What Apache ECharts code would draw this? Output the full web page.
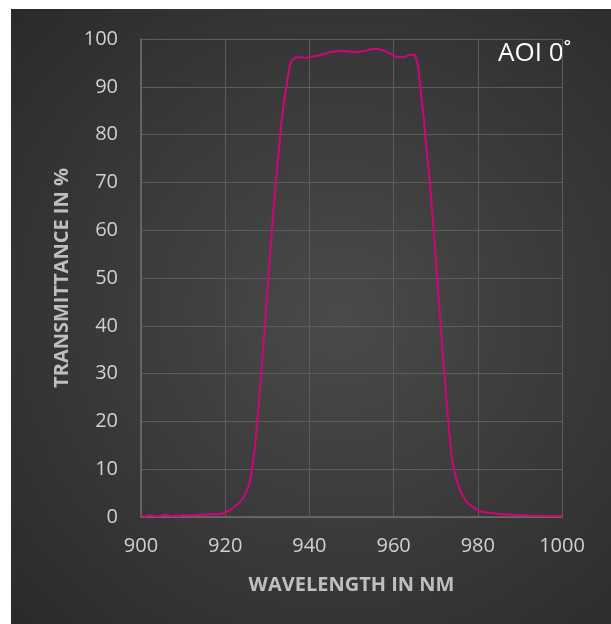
<!DOCTYPE html>
<html><head><meta charset="utf-8">
<script src="https://cdn.jsdelivr.net/npm/echarts@6/dist/echarts.min.js"></script>
<style>html,body{margin:0;padding:0;background:#fff;width:611px;height:624px;overflow:hidden}
#c{position:absolute;left:11px;top:9px;width:600px;height:615px}</style>
</head><body><div id="c"></div>
<script>
const wavelength = [900,901,902,903,904,905,906,907,908,909,910,911,912,913,914,915,916,917,918,919,920,921,922,923,924,925,925.9,926.6,927.3,928,929,930,931,932,933,933.4,934.4,935.4,935.9,937,939.3,940.6,942.5,943.7,944.9,947.3,950.8,953.2,954.9,956.3,958.4,960.3,962.5,963.9,964.8,965.3,965.9,966.4,967.2,967.6,968.6,969.6,970.6,971.6,972.6,973.3,974,975,976,977,978,979.8,981,983.6,986,989,992,995,1000];
const transmittance = [0.3,0.1,0.4,0.2,0.1,0.3,0.5,0.2,0.3,0.2,0.4,0.3,0.3,0.4,0.4,0.5,0.5,0.6,0.6,0.7,1.0,1.4,2.0,2.7,3.6,5.2,7.7,11.5,17,24,35,47,59,70,79,83,89.3,94.6,95.6,96.2,96.1,96.3,96.6,96.9,97.3,97.5,97.3,97.5,97.9,97.9,97.3,96.4,96.2,96.7,96.7,96.0,93.8,89.3,83.3,79,70,59,47,35,24,17,11.5,7.7,5.2,3.6,2.6,1.5,1.1,0.8,0.55,0.4,0.3,0.25,0.2];
const xTicks = [900,920,940,960,980,1000];
const yTicks = [0,10,20,30,40,50,60,70,80,90,100];
const xName = 'WAVELENGTH IN NM';
const yName = 'TRANSMITTANCE IN %';
const label = 'AOI 0\u02da';

const data = wavelength.map((w,i)=>[w,transmittance[i]]);
const chart = echarts.init(document.getElementById('c'));
const font = '"Open Sans", sans-serif';
chart.setOption({
  backgroundColor: {type:'radial', x:0.55, y:0.5, r:0.75, colorStops:[{offset:0,color:'#4a4a4a'},{offset:1,color:'#2a2a2a'}]},
  animation:false,
  grid:{left:130,top:30,right:49,bottom:107},
  xAxis:{type:'value',min:xTicks[0],max:xTicks[xTicks.length-1],interval:20,
    name:xName,nameLocation:'middle',nameGap:58,
    nameTextStyle:{color:'#bfbfbf',fontWeight:'bold',fontSize:20,fontFamily:font},
    axisLine:{show:true,lineStyle:{color:'#6e6e6e',width:1.5}},axisTick:{show:false},
    axisLabel:{color:'#d0d0d0',fontSize:20,fontFamily:font,margin:19,formatter:v=>String(v)},
    splitLine:{show:true,lineStyle:{color:'#5c5c5c',width:1}}},
  yAxis:{type:'value',min:yTicks[0],max:yTicks[yTicks.length-1],interval:10,
    name:yName,nameLocation:'middle',nameGap:68,
    nameTextStyle:{color:'#bfbfbf',fontWeight:'bold',fontSize:20,fontFamily:font},
    axisLine:{show:true,lineStyle:{color:'#6e6e6e',width:1.5}},axisTick:{show:false},
    axisLabel:{color:'#d0d0d0',fontSize:20,fontFamily:font,margin:23,formatter:v=>String(v)},
    splitLine:{show:true,lineStyle:{color:'#5c5c5c',width:1}}},
  graphic:[{type:'text',left:487,top:32,style:{text:label,fill:'#ffffff',fontSize:26,fontFamily:font}}],
  series:[{type:'line',data:data,showSymbol:false,smooth:0.2,lineStyle:{color:'#d1047c',width:2}}]
});
</script></body></html>
